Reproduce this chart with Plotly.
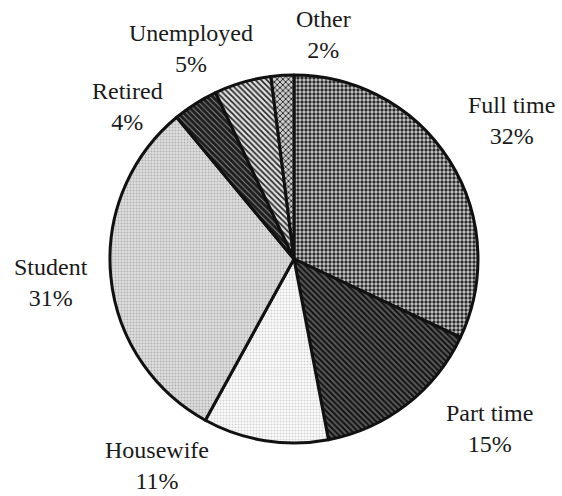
import plotly.graph_objects as go

# ---- data ----
categories = ["Full time", "Part time", "Housewife", "Student", "Retired", "Unemployed", "Other"]
shares = [32, 15, 11, 31, 4, 5, 2]

# ---- styles ----
bg_colors = ["#cdcdcd", "#5a5a5a", "#fbfbfb", "#e0e0e0", "#1c1c1c", "#e2e2e2", "#cccccc"]
fg_colors = ["#2a2a2a", "#111111", "#d2d2d2", "#b0b0b0", "#8a8a8a", "#2a2a2a", "#1e1e1e"]
shapes = [".", "\\", ".", ".", "\\", "\\", "x"]
sizes = [4, 4, 3, 3, 4, 4, 4]
solid = [0.55, 0.5, 0.3, 0.35, 0.25, 0.45, 0.4]

W, H = 562, 496
# label block centres (pixels) - layout only
label_px = [(511, 121), (489, 428), (157, 465), (51, 282), (127, 107), (191, 48), (323, 34)]

fig = go.Figure()
fig.add_trace(go.Pie(
    labels=categories,
    values=shares,
    sort=False,
    direction="clockwise",
    rotation=0,
    textinfo="none",
    hoverinfo="label+percent",
    showlegend=False,
    marker=dict(
        colors=bg_colors,
        line=dict(color="#111111", width=3),
        pattern=dict(shape=shapes, fgcolor=fg_colors, bgcolor=bg_colors,
                     size=sizes, solidity=solid, fillmode="replace"),
    ),
    domain=dict(x=[0.1957, 0.8505], y=[0.1068, 0.8488]),
))

for cat, val, (px, py) in zip(categories, shares, label_px):
    fig.add_annotation(
        x=px / W, y=1 - py / H, xref="paper", yref="paper",
        text=f"{cat}<br>{val}%", showarrow=False,
        xanchor="center", yanchor="middle",
        font=dict(family="Liberation Serif, Times New Roman, serif", size=24, color="#1a1a1a"),
    )

fig.update_layout(
    width=W, height=H,
    margin=dict(l=0, r=0, t=0, b=0),
    paper_bgcolor="white", plot_bgcolor="white",
)
fig.write_html("out.html", config={"displayModeBar": False},
               post_script="document.body.style.margin='0';document.body.style.overflow='hidden';")
